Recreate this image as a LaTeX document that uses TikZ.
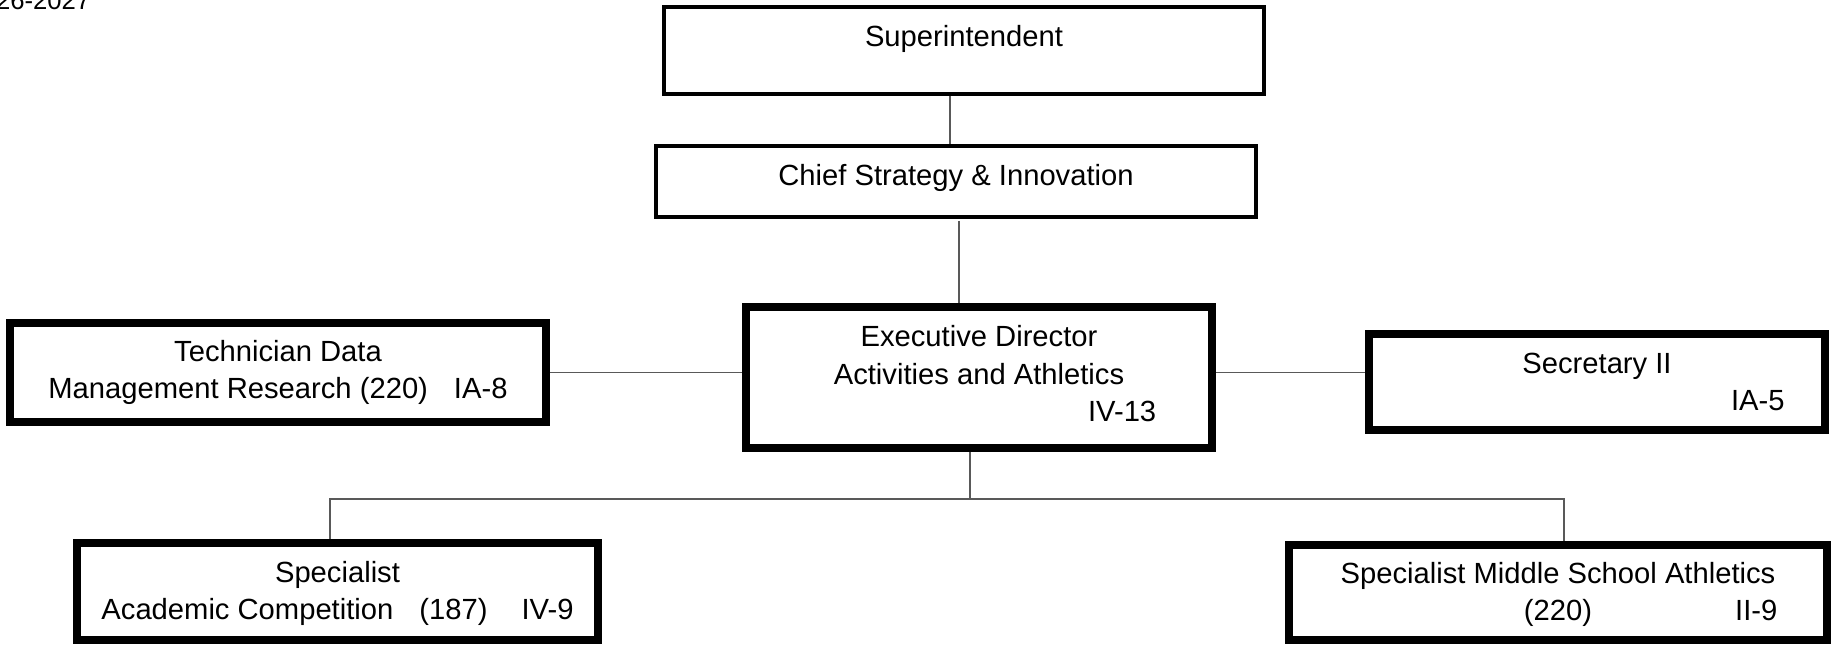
\documentclass[tikz,border=0pt]{standalone}
\usepackage{fontspec}
\setmainfont{Liberation Sans}
\usepackage{tikz}
\usetikzlibrary{positioning}
\definecolor{linegray}{rgb}{0.35, 0.35, 0.35}
\newcommand{\gradeat}[2]{\makebox[0pt][l]{\hspace{#1}#2}} % offset from centre, grade text

\begin{document}
\begin{tikzpicture}[x=0.01cm, y=-0.01cm,
    every node/.style={font=\fontsize{8.3}{10.67}\selectfont, align=center},
    box/.style={draw, rectangle, inner sep=0pt, line width=1.1pt},
    heavybox/.style={box, line width=2.3pt},
    link/.style={draw=linegray, line width=0.55pt}]
                \useasboundingbox (0,0) rectangle (1836,646);

                % Year
                \node[anchor=base east, inner sep=0pt, font=\fontsize{7.3}{9}\selectfont] (year) at (91,10) {26-2027};

                % Top of the chart
                \node[box, minimum width=6cm, minimum height=0.87cm] (sup) at (964,50.5) {Superintendent\\[-0.09cm]\mbox{}};
                \node[box, line width=1pt, minimum width=6cm, minimum height=0.71cm] (chief) at (956,181.5) {Chief Strategy \& Innovation\\[-0.25cm]\mbox{}};
                \node[heavybox, minimum width=4.66cm, minimum height=1.41cm] (exec) at (979,377.5) {Executive Director\\Activities and Athletics\\\gradeat{1.09cm}{IV-13}\\[-0.3cm]\mbox{}};

                % Side boxes
                \node[heavybox, minimum width=5.36cm, minimum height=0.99cm] (tech) at (278,372.5) {Technician Data\\Management Research (220)\hspace{0.26cm}IA-8};
                \node[heavybox, minimum width=4.56cm, minimum height=0.96cm] (sec) at (1597,382) {Secretary II\\\gradeat{1.34cm}{IA-5}};

                % Bottom boxes
                \node[heavybox, minimum width=5.21cm, minimum height=0.97cm] (speca) at (337.5,591.5) {\mbox{}\\[-3.6pt]Specialist\\Academic Competition\hspace{0.26cm}(187)\hspace{0.34cm}IV-9};
                \node[heavybox, minimum width=5.38cm, minimum height=0.95cm] (specms) at (1558,592.5) {\mbox{}\\[-3.6pt]Specialist Middle School Athletics\\(220)\gradeat{1.43cm}{II-9}};

                % Lines
                \coordinate (bus) at (970,499);
                \draw[link] ([xshift=-0.14cm]sup.south) -- ([xshift=-0.14cm]sup.south |- chief.north);
                \draw[link] ([xshift=0.03cm, yshift=-0.02cm]chief.south) -- ([xshift=0.03cm]chief.south |- exec.north);
                \draw[link] (tech.east) -- (tech.east -| exec.west);
                \draw[link] (tech.east -| exec.east) -- (tech.east -| sec.west);
                \draw[link] (exec.south -| bus) -- (bus);
                \draw[link] ([xshift=-0.075cm]speca.north) |- (bus) -| ([xshift=0.06cm]specms.north);
            \end{tikzpicture}
\end{document}
